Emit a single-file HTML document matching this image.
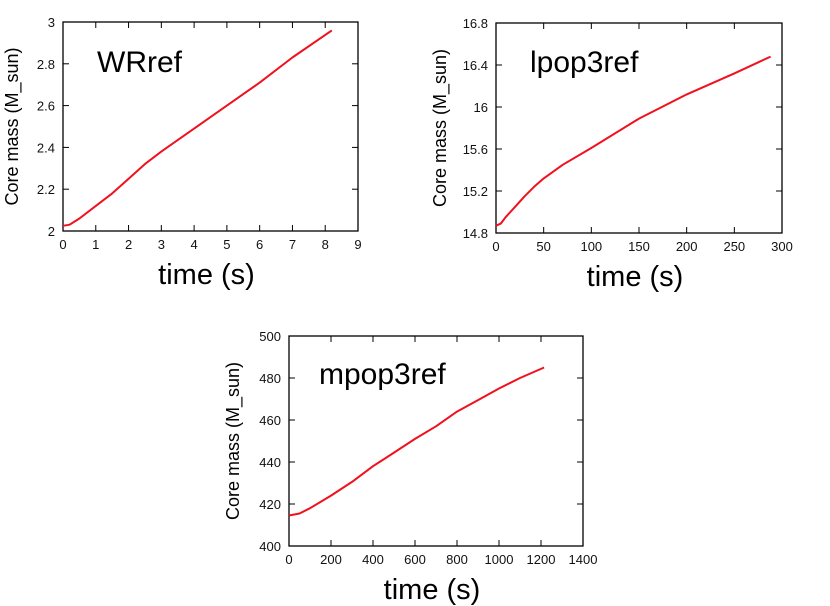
<!DOCTYPE html>
<html><head><meta charset="utf-8"><style>
html,body{margin:0;padding:0;background:#fff;}
svg{display:block;font-family:"Liberation Sans","Noto Sans CJK JP",sans-serif;}
</style></head><body>
<svg id="fig" width="830" height="606" viewBox="0 0 830 606"></svg>
<script>
// WRref panel data
const wrX = [0,0.2,0.5,1,1.5,2,2.5,3,4,5,6,7,8.2];
const wrY = [2.025,2.03,2.06,2.12,2.18,2.25,2.32,2.38,2.49,2.60,2.71,2.83,2.96];
const wrXTicks = [0,1,2,3,4,5,6,7,8,9];
const wrYTicks = [2,2.2,2.4,2.6,2.8,3];
// lpop3ref panel data
const lpX = [0,5,10,20,30,40,50,70,100,150,200,250,288];
const lpY = [14.87,14.89,14.95,15.05,15.15,15.24,15.32,15.45,15.61,15.89,16.12,16.32,16.48];
const lpXTicks = [0,50,100,150,200,250,300];
const lpYTicks = [14.8,15.2,15.6,16,16.4,16.8];
// mpop3ref panel data
const mpX = [0,50,100,200,300,400,500,600,700,800,900,1000,1100,1215];
const mpY = [414.5,415.5,418,424,430.5,438,444.5,451,457,464,469.5,475,480,485];
const mpXTicks = [0,200,400,600,800,1000,1200,1400];
const mpYTicks = [400,420,440,460,480,500];

const NS="http://www.w3.org/2000/svg";
const svg=document.getElementById('fig');
function mk(tag,attrs,parent,text){const e=document.createElementNS(NS,tag);for(const k in attrs)e.setAttribute(k,attrs[k]);if(text!==undefined)e.textContent=text;(parent||svg).appendChild(e);return e;}

function panel(id,box,xs,ys,xt,yt,title,titlePos,ylabX){
  const g=mk('g',{});
  
  
  const [L,T,R,B]=box;
  const x0=xt[0],x1=xt[xt.length-1],y0=yt[0],y1=yt[yt.length-1];
  const sx=v=>L+(v-x0)/(x1-x0)*(R-L);
  const sy=v=>B-(v-y0)/(y1-y0)*(B-T);
  const frame=mk('rect',{x:L,y:T,width:R-L,height:B-T,fill:'none',stroke:'#000','stroke-width':1.3},g);
  
  
  xt.forEach((v,i)=>{
    const x=sx(v);
    if(i>0&&i<xt.length-1){mk('line',{x1:x,y1:B,x2:x,y2:B-6,stroke:'#000'},g);mk('line',{x1:x,y1:T,x2:x,y2:T+6,stroke:'#000'},g);}
    const t=mk('text',{x:x,y:B+18,'font-size':13,'text-anchor':'middle',fill:'#111'},g,String(v));
    
    
  });
  yt.forEach((v,i)=>{
    const y=sy(v);
    if(i>0&&i<yt.length-1){mk('line',{x1:L,y1:y,x2:L+6,y2:y,stroke:'#000'},g);mk('line',{x1:R,y1:y,x2:R-6,y2:y,stroke:'#000'},g);}
    const t=mk('text',{x:L-8,y:y+5,'font-size':13,'text-anchor':'end',fill:'#111'},g,String(v));
    
    
  });
  let d='';xs.forEach((v,i)=>{d+=(i?'L':'M')+sx(v).toFixed(1)+','+sy(ys[i]).toFixed(1);});
  const p=mk('path',{d:d,fill:'none',stroke:'#f0101e','stroke-width':2,'stroke-linejoin':'round'},g);
  
  
  const tt=mk('text',{x:titlePos[0],y:titlePos[1],'font-size':30},g,title);
  
  
  const xl=mk('text',{x:(L+R)/2-4,y:B+53,'font-size':29,'text-anchor':'middle'},g,'time (s)');
  
  
  const cy=(T+B)/2;
  const yl=mk('text',{x:ylabX,y:cy,'font-size':18,'text-anchor':'middle',transform:'rotate(-90 '+ylabX+' '+cy+')'},g,'Core mass (M_sun)');
  
  
}
panel('wrref',[63,22,358,231],wrX,wrY,wrXTicks,wrYTicks,'WRref',[97,72],18);
panel('lpop3ref',[496,23,782,233],lpX,lpY,lpXTicks,lpYTicks,'lpop3ref',[530,72],446);
panel('mpop3ref',[289,336,583,546],mpX,mpY,mpXTicks,mpYTicks,'mpop3ref',[319,384],239);
</script>
</body></html>
